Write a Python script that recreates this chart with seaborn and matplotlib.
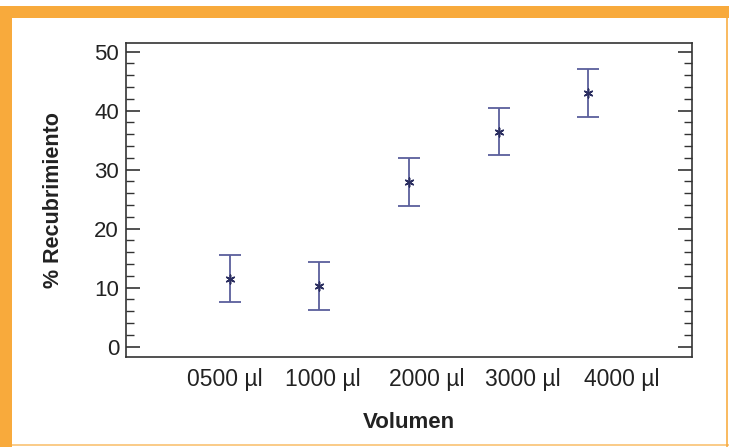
import matplotlib
matplotlib.use("Agg")
import matplotlib.pyplot as plt
from matplotlib.patches import Rectangle
from matplotlib.ticker import MultipleLocator
import seaborn as sns
import pandas as pd

# Data
volumes = ["0500 \u00b5l", "1000 \u00b5l", "2000 \u00b5l", "3000 \u00b5l", "4000 \u00b5l"]
recubrimiento = [11.5, 10.3, 27.9, 36.4, 43.0]
error = [4.0, 4.1, 4.1, 4.0, 4.1]
y_ticks = [0, 10, 20, 30, 40, 50]

df = pd.DataFrame({"pos": range(len(volumes)), "volumen": volumes,
                   "rec": recubrimiento, "err": error})

sns.set_style("white")
plt.rcParams["font.family"] = ["Liberation Sans", "DejaVu Sans"]

fig = plt.figure(figsize=(7.29, 4.47), dpi=100)
fig.patch.set_facecolor("white")
ax = fig.add_axes([126 / 729, 1 - 356.7 / 447, (692 - 126) / 729, (356.7 - 42.7) / 447])

orange = "#F8AA3C"
# frame decoration
fig.patches.append(Rectangle((0, 1 - 18 / 447), 1, 12 / 447, transform=fig.transFigure,
                             facecolor=orange, edgecolor="none", zorder=0))
fig.patches.append(Rectangle((0, 0), 12 / 729, 1 - 6 / 447, transform=fig.transFigure,
                             facecolor=orange, edgecolor="none", zorder=0))
fig.patches.append(Rectangle((725.5 / 729, 0), 2.5 / 729, 1 - 6 / 447, transform=fig.transFigure,
                             facecolor=orange, edgecolor="none", alpha=0.8, zorder=0))
fig.patches.append(Rectangle((0, 1 / 447), 1, 2 / 447, transform=fig.transFigure,
                             facecolor=orange, edgecolor="none", alpha=0.6, zorder=0))

bar_color = "#5B5F9C"
ax.errorbar(df["pos"], df["rec"], yerr=df["err"], fmt="none", ecolor=bar_color,
            elinewidth=1.3, capsize=8, capthick=1.3, zorder=2)
sns.scatterplot(data=df, x="pos", y="rec", marker=(6, 2, 0), s=40, color="#2B2E60",
                edgecolor="#2B2E60", linewidth=1.1, ax=ax, zorder=3, legend=False)

ax.set_xlim(-1.16, 5.16)
ax.set_ylim(-1.7, 51.5)
label_pos = [-0.06, 1.04, 2.20, 3.27, 4.37]
ax.set_xticks(label_pos)
ax.set_xticklabels(volumes, fontsize=16.5, color="#222222")
ax.set_yticks(y_ticks)
ax.set_yticklabels([str(v) for v in y_ticks], fontsize=16, color="#222222")
ax.yaxis.set_minor_locator(MultipleLocator(2))
ax.tick_params(axis="x", length=0, pad=8)
ax.tick_params(axis="y", which="major", direction="in", length=10, width=1.2,
               left=True, right=True, color="#333333", pad=5)
ax.tick_params(axis="y", which="minor", direction="in", length=6, width=1.0,
               left=True, right=True, color="#333333")
for sp in ax.spines.values():
    sp.set_color("#333333")
    sp.set_linewidth(1.2)

ax.set_xlabel("Volumen", fontsize=16, fontweight="bold", color="#222222", labelpad=15)
ax.set_ylabel("% Recubrimiento", fontsize=15.5, fontweight="bold", color="#222222", labelpad=22)

fig.savefig("out.png", dpi=100, facecolor=fig.get_facecolor())
